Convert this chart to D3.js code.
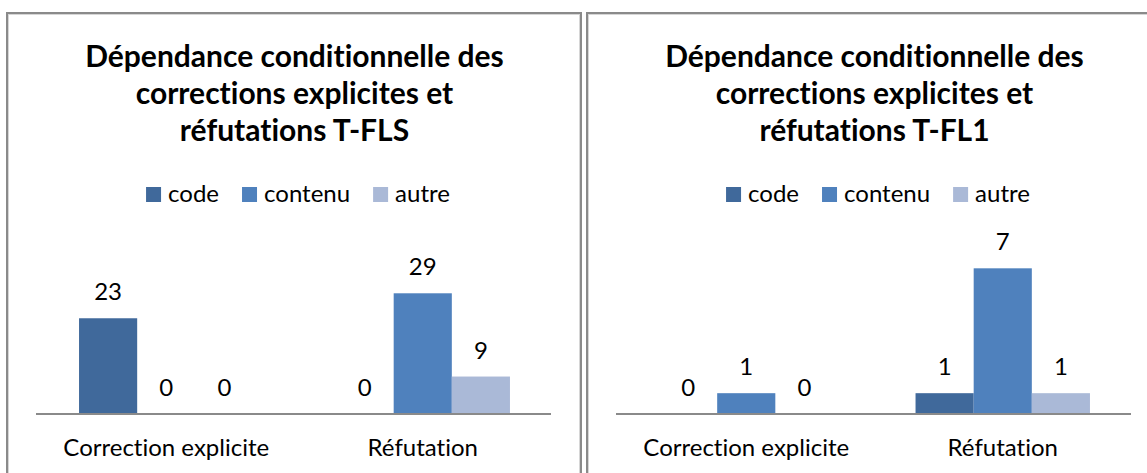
<!DOCTYPE html>
<html>
<head>
<meta charset="utf-8">
<script src="https://cdn.jsdelivr.net/npm/d3@7"></script>
<style>
  html, body { margin: 0; padding: 0; background: #fff; }
  svg { display: block; font-family: Lato, "Open Sans", sans-serif; font-variant-ligatures: none; }
  text { font-variant-ligatures: none; font-feature-settings: "liga" 0, "clig" 0; }
</style>
</head>
<body>
<svg id="chart" width="1147" height="473"></svg>
<script>
// Categories and series shared by both panels
const categories = ["Correction explicite", "Réfutation"];
const seriesNames = ["code", "contenu", "autre"];
const seriesColors = ["#40699B", "#4F81BD", "#AAB9D7"];

// T-FLS counts per category
const flsCode = [23, 0];
const flsContenu = [0, 29];
const flsAutre = [0, 9];
const flsTitle = ["Dépendance conditionnelle des", "corrections explicites et", "réfutations T-FLS"];
const flsAxisMax = 40;

// T-FL1 counts per category
const fl1Code = [0, 1];
const fl1Contenu = [1, 7];
const fl1Autre = [0, 1];
const fl1Title = ["Dépendance conditionnelle des", "corrections explicites et", "réfutations T-FL1"];
const fl1AxisMax = 8;

const svg = d3.select("#chart");

function drawPanel(offsetX, title, seriesValues, axisMax) {
  const g = svg.append("g").attr("transform", `translate(${offsetX},0)`);
  const panelLeft = 7, panelWidth = 574;
  const cx = panelLeft + panelWidth / 2;

  // frame
  g.append("rect")
    .attr("x", panelLeft + 1.5).attr("y", 14.5)
    .attr("width", panelWidth - 3).attr("height", 480)
    .attr("fill", "none").attr("stroke", "#d6d6d6").attr("stroke-width", 1);
  g.append("rect")
    .attr("x", panelLeft).attr("y", 13)
    .attr("width", panelWidth).attr("height", 490)
    .attr("fill", "none").attr("stroke", "#8a8a8a").attr("stroke-width", 2);

  // title
  g.append("text")
    .attr("text-anchor", "middle")
    .attr("font-weight", "bold")
    .attr("font-size", 30)
    .attr("fill", "#000")
    .selectAll("tspan").data(title).join("tspan")
      .attr("x", cx + 0.5)
      .attr("y", (d, i) => 67 + i * 37)
      .text(d => d);

  // legend
  const legend = g.append("g");
  let lx = 0;
  seriesNames.forEach((name, i) => {
    const item = legend.append("g").attr("transform", `translate(${lx},0)`);
    item.append("rect").attr("x", 0).attr("y", 187).attr("width", 15).attr("height", 15)
      .attr("fill", seriesColors[i]);
    const t = item.append("text").attr("x", 22).attr("y", 202)
      .attr("font-size", 24).attr("fill", "#000").text(name);
    lx += 22 + t.node().getComputedTextLength() + 23;
  });
  const legendWidth = lx - 23;
  legend.attr("transform", `translate(${cx + 4 - legendWidth / 2},0)`);

  // scales
  const x0 = d3.scaleBand().domain(categories).range([38, 551])
    .paddingInner(0.32).paddingOuter(0.16);
  const x1 = d3.scaleBand().domain(seriesNames).range([0, x0.bandwidth()]);
  const y = d3.scaleLinear().domain([0, axisMax]).range([414, 247.5]);

  const rows = [];
  categories.forEach((c, ci) => {
    seriesNames.forEach((s, si) => {
      rows.push({ cat: c, series: s, color: seriesColors[si], value: seriesValues[si][ci] });
    });
  });

  g.append("g").selectAll("rect").data(rows).join("rect")
    .attr("x", d => x0(d.cat) + x1(d.series))
    .attr("y", d => y(d.value))
    .attr("width", x1.bandwidth())
    .attr("height", d => y(0) - y(d.value))
    .attr("fill", d => d.color);

  g.append("g").selectAll("text").data(rows).join("text")
    .attr("x", d => x0(d.cat) + x1(d.series) + x1.bandwidth() / 2)
    .attr("y", d => y(d.value) - 18)
    .attr("text-anchor", "middle")
    .attr("font-size", 24)
    .attr("fill", "#000")
    .text(d => d.value);

  // category axis
  const axis = g.append("g").attr("transform", "translate(0,414)")
    .call(d3.axisBottom(x0).tickSize(0).tickPadding(0).tickSizeOuter(0));
  axis.select(".domain").attr("stroke", "#8a8a8a").attr("stroke-width", 2)
    .attr("d", "M36,0H551");
  axis.selectAll(".tick text")
    .attr("font-family", "Lato, 'Open Sans', sans-serif")
    .attr("font-size", 24)
    .attr("fill", "#000")
    .attr("dy", 0)
    .attr("y", 42);
}

drawPanel(0, flsTitle, [flsCode, flsContenu, flsAutre], flsAxisMax);
drawPanel(580, fl1Title, [fl1Code, fl1Contenu, fl1Autre], fl1AxisMax);
</script>
</body>
</html>
